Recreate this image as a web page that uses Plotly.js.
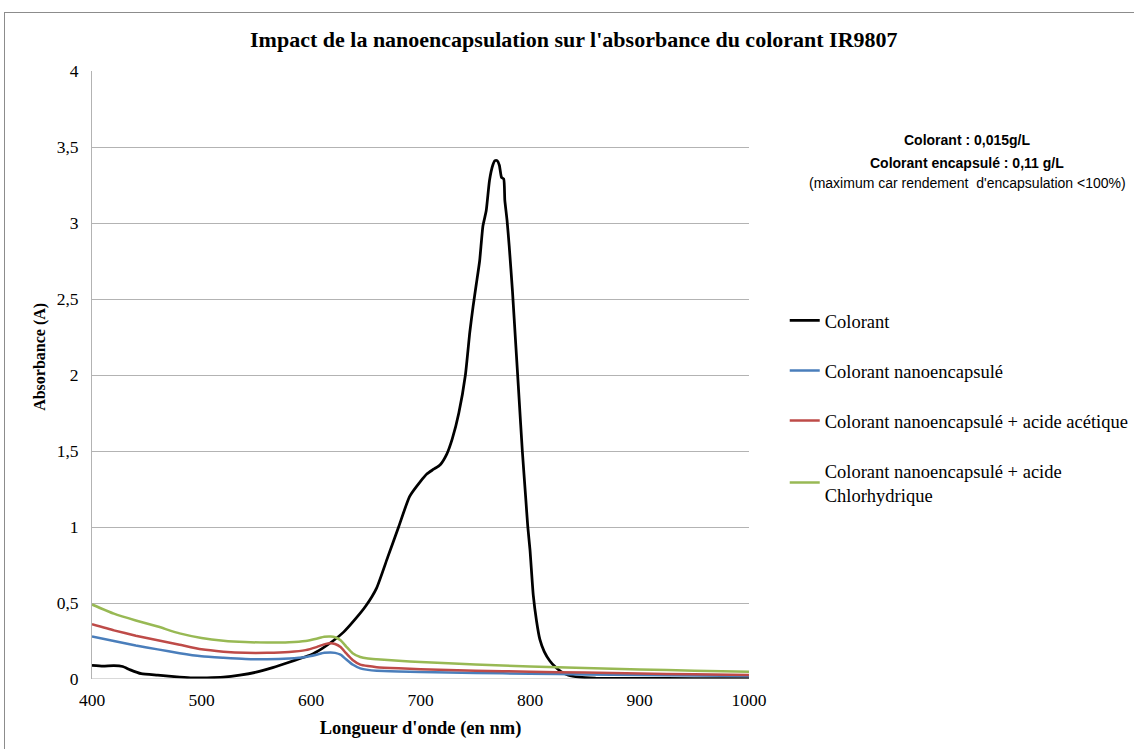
<!DOCTYPE html>
<html>
<head>
<meta charset="utf-8">
<script src="https://cdn.plot.ly/plotly-3.0.1.min.js"></script>
<style>
html,body{margin:0;padding:0;overflow:hidden;background:#fff;}
#chart{width:1134px;height:749px;position:absolute;left:0;top:0;}
#frame{position:absolute;left:4px;top:12px;width:1300px;height:900px;border:1px solid #8c8c8c;pointer-events:none;}
</style>
</head>
<body>
<div id="chart"></div>
<div id="frame"></div>
<script>
// Colorant (black)
const wlColorant = [400,410,420,428,435,445,460,475,490,505,520,535,550,565,580,590,600,610,620,630,640,650,660,670,680,690,700,706,712,718,724,729,735,741,745,748,751,754,757,760,763,766,768,770,772,774,776,777,779,781,784,787,790,793,796,798,800,803,806,809,813,818,823,828,835,845,860,900,950,1000];
const absColorant = [0.09,0.085,0.088,0.082,0.06,0.035,0.025,0.015,0.008,0.008,0.012,0.025,0.045,0.075,0.11,0.135,0.16,0.2,0.25,0.31,0.39,0.48,0.6,0.8,1.0,1.2,1.3,1.35,1.38,1.41,1.48,1.58,1.75,2.0,2.28,2.45,2.6,2.75,2.98,3.08,3.28,3.38,3.41,3.41,3.38,3.3,3.29,3.15,3.02,2.85,2.55,2.2,1.85,1.5,1.2,1.0,0.85,0.55,0.38,0.26,0.18,0.12,0.08,0.05,0.025,0.012,0.006,0.004,0.003,0.003];

// Shared wavelengths for encapsulated samples
const wlEnc = [400,420,440,460,480,500,520,540,560,580,595,605,612,618,622,627,632,638,645,652,660,680,700,750,800,850,900,950,1000];
// Colorant nanoencapsulé (blue)
const absNano = [0.28,0.25,0.22,0.195,0.17,0.15,0.14,0.132,0.13,0.135,0.145,0.16,0.172,0.175,0.172,0.16,0.13,0.095,0.07,0.06,0.055,0.05,0.046,0.04,0.035,0.03,0.026,0.023,0.02];
// + acide acétique (red)
const absAcet = [0.36,0.32,0.285,0.255,0.225,0.195,0.18,0.172,0.172,0.178,0.19,0.21,0.228,0.235,0.23,0.21,0.17,0.125,0.095,0.085,0.078,0.07,0.064,0.055,0.048,0.042,0.036,0.031,0.027];
// + acide chlorhydrique (green)
const absHCl = [0.49,0.43,0.385,0.345,0.3,0.27,0.252,0.243,0.24,0.242,0.25,0.265,0.278,0.28,0.275,0.255,0.215,0.17,0.145,0.135,0.13,0.12,0.112,0.095,0.082,0.072,0.063,0.055,0.047];

const names = ["Colorant","Colorant nanoencapsulé","Colorant nanoencapsulé + acide acétique","Colorant nanoencapsulé + acide<br>Chlorhydrique"];
const colors = ["#000000","#4a7ebb","#be4b48","#98b954"];
const yTicks = [0,0.5,1,1.5,2,2.5,3,3.5,4];
const yTickText = ["0","0,5","1","1,5","2","2,5","3","3,5","4"];
const xTicks = [400,500,600,700,800,900,1000];

const serif = "Liberation Serif, Times New Roman, serif";
const sans = "Liberation Sans, Arial, sans-serif";

const traces = [
  {x: wlColorant, y: absColorant},
  {x: wlEnc, y: absNano},
  {x: wlEnc, y: absAcet},
  {x: wlEnc, y: absHCl}
].map((t,i)=>({
  x: t.x, y: t.y, type: "scatter", mode: "lines", name: names[i],
  legendgroup: "g"+i,
  line: {color: colors[i], width: i===0 ? 2.75 : 2.5, shape: "spline", smoothing: 0.5}
}));

const layout = {
  width: 1134, height: 749,
  margin: {l: 92, r: 385, t: 71, b: 70, autoexpand: false},
  paper_bgcolor: "#ffffff", plot_bgcolor: "#ffffff",
  font: {family: serif, size: 17.5, color: "#000"},
  title: {text: "<b>Impact de la nanoencapsulation sur l'absorbance du colorant IR9807</b>",
          font: {family: serif, size: 22, color: "#000"}, x: 0.506, xref: "container", y: 0.947, yref: "container", yanchor: "middle"},
  xaxis: {
    range: [400, 1000], tickvals: xTicks, ticktext: xTicks.map(String),
    showgrid: false, zeroline: false, showline: false, ticks: "", ticklabelstandoff: 8,
    tickfont: {family: serif, size: 17.5, color: "#000"},
    title: {text: "<b>Longueur d'onde (en nm)</b>", font: {family: serif, size: 18.5, color: "#000"}, standoff: 12}
  },
  yaxis: {
    range: [0, 4], tickvals: yTicks, ticktext: yTickText,
    showgrid: true, gridcolor: "#b3b3b3", gridwidth: 1, zeroline: false,
    showline: true, linecolor: "#b3b3b3", linewidth: 1, ticks: "", ticklen: 0, ticklabelstandoff: 9,
    tickfont: {family: serif, size: 17.5, color: "#000"},
    title: {text: ""}
  },
  showlegend: true,
  legend: {xref: "container", yref: "container", x: 0.692, xanchor: "left", y: 0.597, yanchor: "top",
           traceorder: "grouped", tracegroupgap: 23,
           font: {family: serif, size: 18.5, color: "#000"}, bgcolor: "rgba(0,0,0,0)", itemwidth: 30},
  shapes: [
    {type: "line", xref: "paper", yref: "y", x0: 0, x1: 1, y0: 0, y1: 0, line: {color: "#b3b3b3", width: 1}}
  ],
  annotations: [
    {text: "<b>Absorbance (A)</b>", xref: "paper", yref: "paper", x: -0.079, y: 0.53, textangle: -90, showarrow: false, xanchor: "center", yanchor: "middle", font: {family: serif, size: 16, color: "#000"}},
    {text: "<b>Colorant : 0,015g/L</b>", xref: "paper", yref: "paper", x: 1.332, y: 0.8865, showarrow: false, xanchor: "center", yanchor: "middle", font: {family: sans, size: 14, color: "#000"}},
    {text: "<b>Colorant encapsulé : 0,11 g/L</b>", xref: "paper", yref: "paper", x: 1.332, y: 0.849, showarrow: false, xanchor: "center", yanchor: "middle", font: {family: sans, size: 14, color: "#000"}},
    {text: "(maximum car rendement  d'encapsulation <100%)", xref: "paper", yref: "paper", x: 1.332, y: 0.816, showarrow: false, xanchor: "center", yanchor: "middle", font: {family: sans, size: 14, color: "#000"}}
  ]
};

Plotly.newPlot("chart", traces, layout, {displayModeBar: false, staticPlot: true});
</script>
</body>
</html>
